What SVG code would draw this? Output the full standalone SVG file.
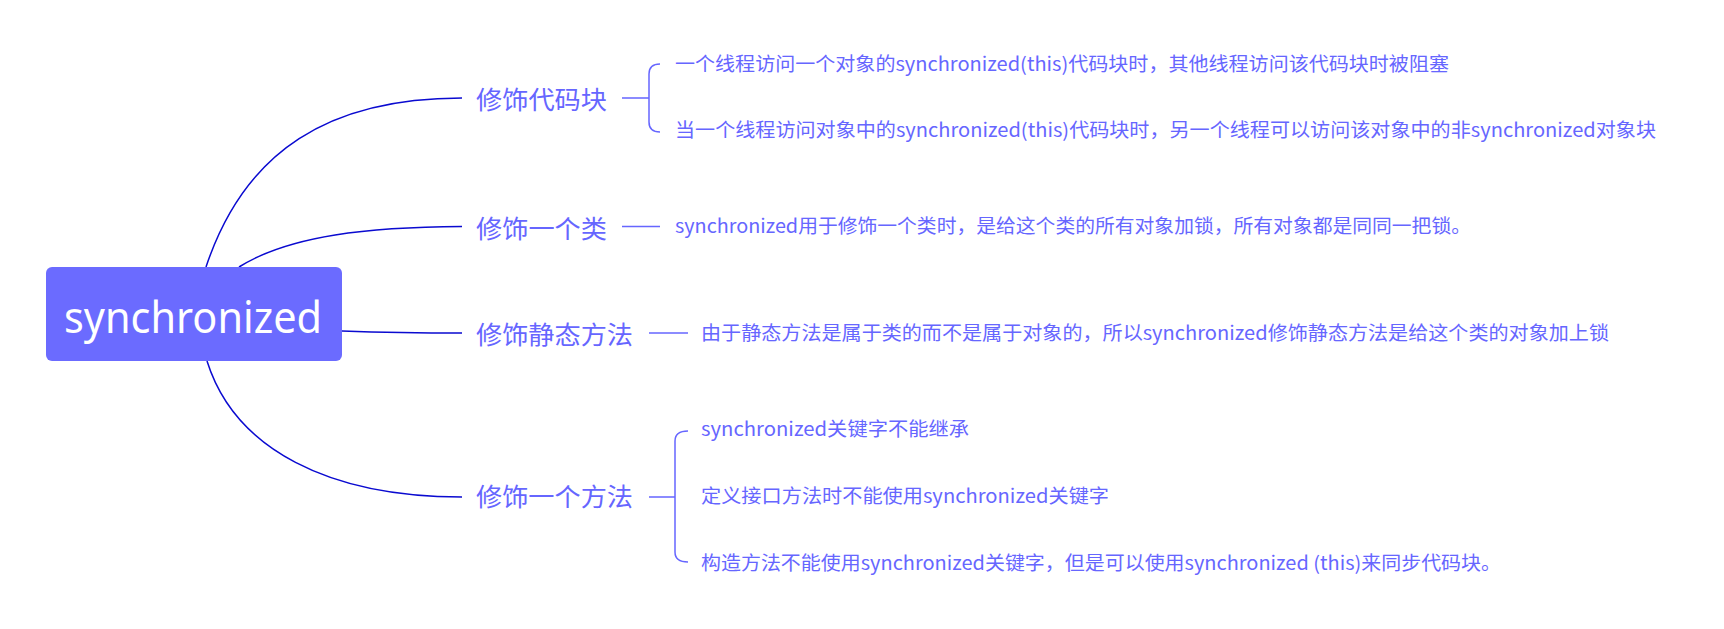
<svg xmlns="http://www.w3.org/2000/svg" width="1724" height="629" viewBox="0 0 1724 629">
<style>
.t{font-family:"Noto Sans CJK SC","Noto Sans",sans-serif;fill:#6666ff}
.b{font-size:25px}
.l{font-size:19px}
.c{fill:none;stroke:#0a0ad0;stroke-width:1.5}
.s{fill:none;stroke:#6666ff;stroke-width:1.5}
</style>
<rect width="1724" height="629" fill="#fff"/>
<g id="connectors">
<path class="c" d="M206,267 C245,150 330,98 462,98"/>
<path class="c" d="M239,267 C290,235 370,227 462,226.5"/>
<path class="c" d="M342,331 C400,333 430,333 462,333"/>
<path class="c" d="M207,361 C235,450 330,497 462,497"/>
<path class="s" d="M622,98 H649 M660,64 Q649,64 649,74 V122 Q649,132 660,132"/>
<path class="s" d="M622,226.5 H660"/>
<path class="s" d="M649,333 H688"/>
<path class="s" d="M649,497 H675 M688,431 Q675,431 675,441 V552 Q675,562 688,562"/>
</g>
<g id="root">
<rect x="46" y="267" width="296" height="94" rx="6" fill="#6b6bff"/>
<text x="64" y="333" textLength="258" lengthAdjust="spacingAndGlyphs" style="font-family:'Noto Sans','Noto Sans CJK SC',sans-serif;font-size:44px;fill:#fff">synchronized</text>
</g>
<g id="b1"><text class="t b" x="476" y="109" textLength="131" lengthAdjust="spacingAndGlyphs">修饰代码块</text></g>
<g id="b2"><text class="t b" x="476" y="238" textLength="131" lengthAdjust="spacingAndGlyphs">修饰一个类</text></g>
<g id="b3"><text class="t b" x="476" y="344" textLength="157" lengthAdjust="spacingAndGlyphs">修饰静态方法</text></g>
<g id="b4"><text class="t b" x="476" y="506" textLength="157" lengthAdjust="spacingAndGlyphs">修饰一个方法</text></g>
<g id="l1"><text class="t l" x="675" y="71" textLength="774" lengthAdjust="spacingAndGlyphs">一个线程访问一个对象的synchronized(this)代码块时，其他线程访问该代码块时被阻塞</text></g>
<g id="l2"><text class="t l" x="675" y="137" textLength="981" lengthAdjust="spacingAndGlyphs">当一个线程访问对象中的synchronized(this)代码块时，另一个线程可以访问该对象中的非synchronized对象块</text></g>
<g id="l3"><text class="t l" x="675" y="233" textLength="796" lengthAdjust="spacingAndGlyphs">synchronized用于修饰一个类时，是给这个类的所有对象加锁，所有对象都是同同一把锁。</text></g>
<g id="l4"><text class="t l" x="701" y="340" textLength="908" lengthAdjust="spacingAndGlyphs">由于静态方法是属于类的而不是属于对象的，所以synchronized修饰静态方法是给这个类的对象加上锁</text></g>
<g id="l5"><text class="t l" x="701" y="436" textLength="268" lengthAdjust="spacingAndGlyphs">synchronized关键字不能继承</text></g>
<g id="l6"><text class="t l" x="701" y="503" textLength="408" lengthAdjust="spacingAndGlyphs">定义接口方法时不能使用synchronized关键字</text></g>
<g id="l7"><text class="t l" x="701" y="570" textLength="800" lengthAdjust="spacingAndGlyphs">构造方法不能使用synchronized关键字，但是可以使用synchronized (this)来同步代码块。</text></g>
</svg>
